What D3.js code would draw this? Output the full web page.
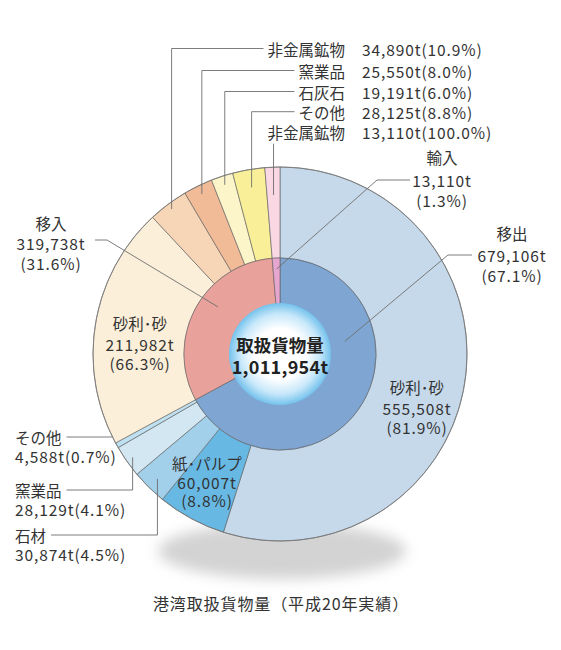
<!DOCTYPE html>
<html><head><meta charset="utf-8">
<script src="https://cdn.jsdelivr.net/npm/d3@7"></script>
<style>
html,body{margin:0;padding:0;background:#fff;}
svg{display:block;}
text{font-family:"Noto Sans CJK JP","Noto Sans",sans-serif;fill:#333;}
text.num{letter-spacing:0.9px;}
</style></head>
<body>
<script>
// ---- data ----
const groupNames = ["移出", "移入", "輸入"];
const groupValues = [679106, 319738, 13110];
const groupPct = ["67.1%", "31.6%", "1.3%"];

const itemGroup = ["移出","移出","移出","移出","移出","移入","移入","移入","移入","移入","輸入"];
const itemNames = ["砂利･砂","紙･パルプ","石材","窯業品","その他","砂利･砂","非金属鉱物","窯業品","石灰石","その他","非金属鉱物"];
const itemValues = [555508, 60007, 30874, 28129, 4588, 211982, 34890, 25550, 19191, 28125, 13110];
const itemPct = ["81.9%","8.8%","4.5%","4.1%","0.7%","66.3%","10.9%","8.0%","6.0%","8.8%","100.0%"];

const centerTitle = "取扱貨物量";
const centerTotal = 1011954;
const chartTitle = "港湾取扱貨物量（平成20年実績）";

// ---- styles ----
const groupColors = ["#7fa6d2", "#e9a19b", "#e6a6cf"];
const itemColors = ["#c6d9ea","#67b9e4","#a2d0eb","#d3e7f2","#bfe0f0",
                    "#fbefd9","#f7d5b7","#f1bb98","#fbf5c9","#f9ef98","#f9d8e4"];

const W = 561, H = 650;
const cx = 280, cy = 354;
const R = 187, r1 = 96, r0 = 51;
const fmt = d3.format(",");

const svg = d3.select("body").append("svg").attr("width", W).attr("height", H);
const defs = svg.append("defs");

const blur = defs.append("filter").attr("id","blur").attr("x","-50%").attr("y","-50%").attr("width","200%").attr("height","200%");
blur.append("feGaussianBlur").attr("stdDeviation", 7);

const rg = defs.append("radialGradient").attr("id","cg");
rg.append("stop").attr("offset","0%").attr("stop-color","#ffffff");
rg.append("stop").attr("offset","50%").attr("stop-color","#ffffff");
rg.append("stop").attr("offset","78%").attr("stop-color","#c8e8fa");
rg.append("stop").attr("offset","100%").attr("stop-color","#74c2ec");

// shadow
svg.append("ellipse").attr("cx", 282).attr("cy", 551).attr("rx", 124).attr("ry", 28)
  .attr("fill", "#d2d3d2").attr("filter","url(#blur)");

const g = svg.append("g").attr("transform", `translate(${cx},${cy})`);

const groups = groupNames.map((n,i)=>({name:n, value:groupValues[i], pct:groupPct[i], i}));
const items = itemNames.map((n,i)=>({name:n, group:itemGroup[i], value:itemValues[i], pct:itemPct[i], i}));

const pie = d3.pie().sort(null).value(d=>d.value).startAngle(0).endAngle(2*Math.PI);
const outerArcs = pie(items);
const innerArcs = pie(groups);

const outerArc = d3.arc().innerRadius(r1).outerRadius(R);
const innerArc = d3.arc().innerRadius(r0 - 2).outerRadius(r1);

g.selectAll("path.outer").data(outerArcs).join("path")
  .attr("class","outer").attr("d", outerArc)
  .attr("fill", d=>itemColors[d.data.i])
  .attr("stroke", "#5a5a5a").attr("stroke-width", 0.6);

g.selectAll("path.inner").data(innerArcs).join("path")
  .attr("class","inner").attr("d", innerArc)
  .attr("fill", d=>groupColors[d.data.i])
  .attr("stroke", "#5a5a5a").attr("stroke-width", 0.6);

g.append("circle").attr("r", R).attr("fill","none").attr("stroke","#777").attr("stroke-width",0.8);

function polar(angDeg, rad){
  const a = angDeg*Math.PI/180;
  return [cx + rad*Math.sin(a), cy - rad*Math.cos(a)];
}
function midDeg(arc){ return (arc.startAngle+arc.endAngle)/2*180/Math.PI; }

const lineG = svg.append("g").attr("fill","none").attr("stroke","#6e6e6e").attr("stroke-width",0.9);
const txt = svg.append("g").style("font-size","15.5px");

function addText(x, y, s, anchor, isNum){
  return txt.append("text").attr("class", isNum ? "num" : null)
    .attr("x", x).attr("y", y).attr("text-anchor", anchor||"middle")
    .attr("dominant-baseline","central").text(s);
}

// ---- top labels (移入 small items + 輸入) ----
const topIdx = [6,7,8,9,10];
const topY = [48.5, 70.5, 91.5, 111.7, 131.7];
const topR = [181, 178, 178, 169, 159];
topIdx.forEach((k,j)=>{
  const d = items[k];
  const nm = addText(345, topY[j], d.name, "end");
  addText(362, topY[j], fmt(d.value)+"t("+d.pct+")", "start", true);
  const w = nm.node().getComputedTextLength();
  const end = polar(midDeg(outerArcs[k]), topR[j]);
  if (j < 4) {
    lineG.append("path").attr("d", d3.line()([[345 - w - 4, topY[j]], [end[0], topY[j]], end]));
  } else {
    lineG.append("path").attr("d", d3.line()([[end[0], topY[j] + 12], end]));
  }
});

// ---- left labels (移出 small items) ----
const leftIdx = [4,3,2];
const leftY = [437, 490, 535];
leftIdx.forEach((k,j)=>{
  const d = items[k];
  const nm = addText(15, leftY[j], d.name, "start");
  addText(15, leftY[j] + 18.5, fmt(d.value)+"t("+d.pct+")", "start", true);
  const w = nm.node().getComputedTextLength();
  const x0 = 15 + w + 5;
  if (j === 0) {
    const dy = leftY[j] - cy;
    const xe = cx - Math.sqrt(R*R - dy*dy);
    lineG.append("path").attr("d", d3.line()([[x0, leftY[j]], [xe, leftY[j]]]));
  } else {
    const end = polar(midDeg(outerArcs[k]), j === 1 ? 180 : 175);
    lineG.append("path").attr("d", d3.line()([[x0, leftY[j]], [end[0], leftY[j]], end]));
  }
});

// ---- labels inside outer ring ----
function block(x, ys, lines){ lines.forEach((s,i)=>addText(x, ys[i], s, "middle", i > 0)); }
block(417, [387, 408, 427], [items[0].name, fmt(items[0].value)+"t", "("+items[0].pct+")"]);
block(140, [323, 344, 363], [items[5].name, fmt(items[5].value)+"t", "("+items[5].pct+")"]);
block(207, [463, 482, 500], [items[1].name, fmt(items[1].value)+"t", "("+items[1].pct+")"]);

// ---- group labels ----
// 移出
block(512, [233, 255, 275], [groups[0].name, fmt(groups[0].value)+"t", "("+groups[0].pct+")"]);
lineG.append("path").attr("d", d3.line()([[472, 255], [448, 255], polar(79, 66)]));
// 移入
block(51, [223, 243, 263], [groups[1].name, fmt(groups[1].value)+"t", "("+groups[1].pct+")"]);
lineG.append("path").attr("d", d3.line()([[95, 240], [107, 240], polar(307.2, 78)]));
// 輸入
block(442, [157, 180, 200], [groups[2].name, fmt(groups[2].value)+"t", "("+groups[2].pct+")"]);
lineG.append("path").attr("d", d3.line()([[410, 180], [377, 180], polar(midDeg(innerArcs[2]), 85)]));

// ---- center ----
svg.append("circle").attr("cx", cx).attr("cy", cy).attr("r", r0).attr("fill","url(#cg)");
svg.append("text").attr("x", cx).attr("y", 344).attr("text-anchor","middle").attr("dominant-baseline","central")
  .style("font-size","17.5px").style("font-weight","700").style("fill","#222").text(centerTitle);
svg.append("text").attr("x", cx).attr("y", 366).attr("text-anchor","middle").attr("dominant-baseline","central")
  .style("font-size","18px").style("font-weight","700").style("fill","#222").style("letter-spacing","0.3px")
  .text(fmt(centerTotal)+"t");

// ---- title ----
svg.append("text").attr("x", 281).attr("y", 603).attr("text-anchor","middle").attr("dominant-baseline","central")
  .style("font-size","16px").style("letter-spacing","0.9px").text(chartTitle);
</script>
</body></html>
